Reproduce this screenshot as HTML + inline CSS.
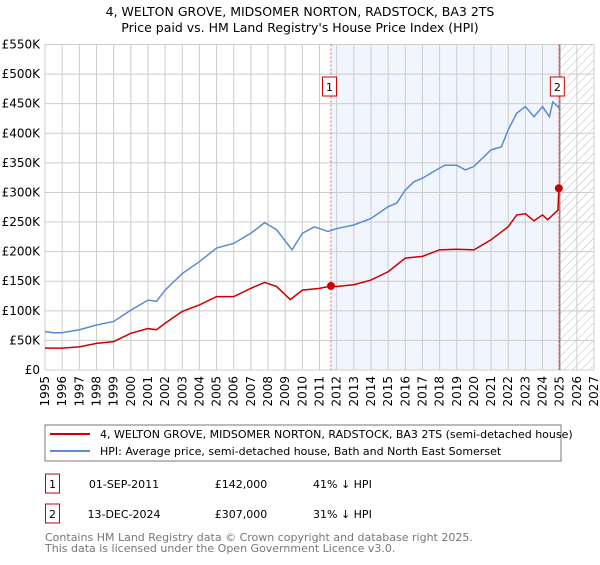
<!DOCTYPE html>
<html><head><meta charset="utf-8"><style>
body{margin:0;background:#fff;font-family:"Liberation Sans","DejaVu Sans",sans-serif;}
svg text{font-family:"DejaVu Sans","Liberation Sans",sans-serif;}
</style></head><body>
<svg width="600" height="560" viewBox="0 0 600 560">
<defs><pattern id="hatch" width="6" height="6" patternUnits="userSpaceOnUse" patternTransform="rotate(45)"><line x1="0" y1="0" x2="0" y2="6" stroke="#bbb" stroke-width="1"/></pattern></defs>
<text x="300" y="16" text-anchor="middle" font-size="12.5">4, WELTON GROVE, MIDSOMER NORTON, RADSTOCK, BA3 2TS</text>
<text x="300" y="32" text-anchor="middle" font-size="12.5">Price paid vs. HM Land Registry's House Price Index (HPI)</text>
<g id="plot"></g>
<rect x="45" y="425" width="516" height="36" fill="#fff" stroke="#777"/>
<line x1="50" y1="434" x2="90" y2="434" stroke="#cc0000" stroke-width="2"/>
<text x="100" y="438" font-size="11">4, WELTON GROVE, MIDSOMER NORTON, RADSTOCK, BA3 2TS (semi-detached house)</text>
<line x1="50" y1="451" x2="90" y2="451" stroke="#5b8bd0" stroke-width="2"/>
<text x="100" y="455" font-size="11">HPI: Average price, semi-detached house, Bath and North East Somerset</text>
<g font-size="11">
<rect x="45.5" y="474" width="14" height="19" fill="#fff" stroke="#cc0000"/><text x="52.5" y="488" text-anchor="middle">1</text>
<text x="124" y="488" text-anchor="middle">01-SEP-2011</text><text x="241" y="488" text-anchor="middle">£142,000</text><text x="313" y="488">41% ↓ HPI</text>
<rect x="45.5" y="504" width="14" height="19" fill="#fff" stroke="#cc0000"/><text x="52.5" y="518" text-anchor="middle">2</text>
<text x="124" y="518" text-anchor="middle">13-DEC-2024</text><text x="241" y="518" text-anchor="middle">£307,000</text><text x="313" y="518">31% ↓ HPI</text>
</g>
<text x="45" y="541" font-size="11" fill="#777">Contains HM Land Registry data © Crown copyright and database right 2025.</text>
<text x="45" y="552" font-size="11" fill="#777">This data is licensed under the Open Government Licence v3.0.</text>
</svg>
<script>
const yTicks=[0,50,100,150,200,250,300,350,400,450,500,550];
const yTickLabels=["£0","£50K","£100K","£150K","£200K","£250K","£300K","£350K","£400K","£450K","£500K","£550K"];
const xYears=[1995,1996,1997,1998,1999,2000,2001,2002,2003,2004,2005,2006,2007,2008,2009,2010,2011,2012,2013,2014,2015,2016,2017,2018,2019,2020,2021,2022,2023,2024,2025,2026,2027];
const hpiDates=[1995,1995.5,1996,1997,1998,1999,2000,2001,2001.5,2002,2003,2004,2005,2006,2007,2007.8,2008.5,2009.4,2010,2010.7,2011.5,2012,2013,2014,2015,2015.5,2016,2016.5,2017,2017.8,2018.3,2019,2019.5,2020,2020.5,2021,2021.6,2022,2022.5,2023,2023.5,2024,2024.4,2024.6,2025];
const hpiValues=[65,63,63,68,76,82,101,118,116,135,163,183,206,214,231,249,237,203,231,242,234,239,245,256,276,282,304,318,324,338,346,346,338,344,358,372,377,406,434,445,428,445,428,453,442];
const propDates=[1995,1996,1997,1998,1999,2000,2001,2001.5,2002,2003,2004,2005,2006,2007,2007.8,2008.5,2009.3,2010,2011,2011.67,2012,2013,2014,2015,2016,2017,2018,2019,2020,2021,2022,2022.5,2023,2023.5,2024,2024.3,2024.9,2024.95];
const propValues=[37,37,39,45,48,62,70,68,79,99,110,124,124,138,148,141,119,135,138,142,141,144,152,166,189,192,203,204,203,220,242,262,264,252,262,254,270,307];
const saleDates=[2011.67,2024.95];
const saleValues=[142,307];
const saleLabels=["1","2"];
const X=d=>45+(d-1995)*(549/32), Y=v=>370-v*(325.5/550);
const NS="http://www.w3.org/2000/svg", g=document.getElementById('plot');
function mk(t,a){const e=document.createElementNS(NS,t);for(const k in a)e.setAttribute(k,a[k]);g.appendChild(e);return e;}
let e=mk('rect',{x:X(2011.67),y:Y(550),width:X(2024.95)-X(2011.67),height:Y(0)-Y(550),fill:'#eef3fc',opacity:0.8});


e=mk('rect',{x:X(2025),y:Y(550),width:X(2027)-X(2025),height:Y(0)-Y(550),fill:'url(#hatch)'});


yTicks.forEach((v,i)=>{let l=mk('line',{x1:45,x2:594,y1:Y(v),y2:Y(v),stroke:'#ccc'});


let t=mk('text',{x:40,y:Y(v)+4,'text-anchor':'end','font-size':12});t.textContent=yTickLabels[i];

});
xYears.forEach(yr=>{let l=mk('line',{x1:X(yr),x2:X(yr),y1:Y(550),y2:Y(0),stroke:'#ccc'});


let t=mk('text',{x:0,y:0,'text-anchor':'end','font-size':12,transform:`translate(${X(yr)+4},376) rotate(-90)`});t.textContent=yr;

});
e=mk('line',{x1:X(2025),x2:X(2025),y1:Y(550),y2:Y(0),stroke:'#888','stroke-width':1.5});


saleDates.forEach((d,i)=>{let l=mk('line',{x1:X(d),x2:X(d),y1:Y(550),y2:Y(0),stroke:'#e06060','stroke-dasharray':'2,2'});

});
function path(ds,vs,col,name){let p=mk('polyline',{points:ds.map((d,i)=>X(d)+','+Y(vs[i])).join(' '),fill:'none',stroke:col,'stroke-width':1.5});

}
path(hpiDates,hpiValues,'#5b8bd0','hpi-line');
path(propDates,propValues,'#cc0000','property-line');
saleDates.forEach((d,i)=>{let c=mk('circle',{cx:X(d),cy:Y(saleValues[i]),r:4,fill:'#cc0000'});


let r=mk('rect',{x:X(d)-8.5,y:77,width:14,height:19,fill:'#fff',stroke:'#cc0000'});


let t=mk('text',{x:X(d)-1.5,y:91,'text-anchor':'middle','font-size':11});t.textContent=saleLabels[i];

});
</script>
</body></html>
